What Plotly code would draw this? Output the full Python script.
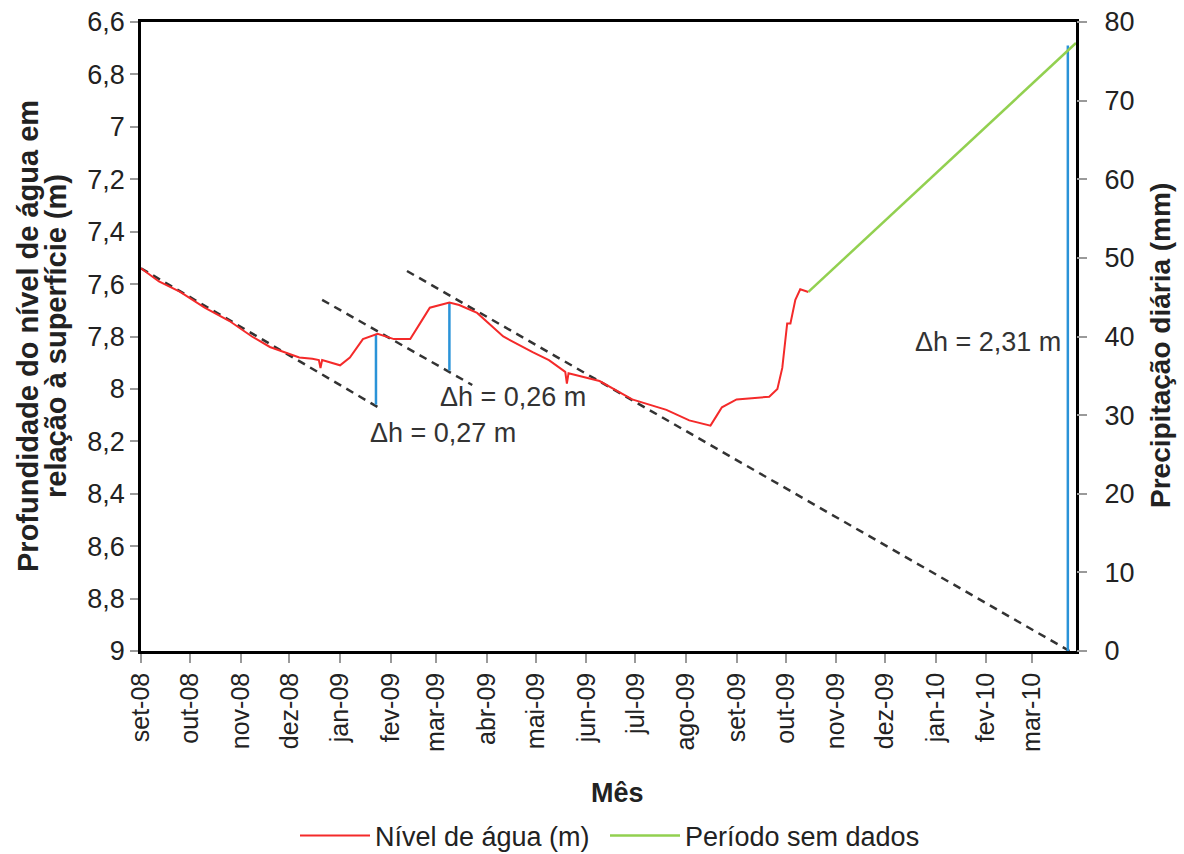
import plotly.graph_objects as go

# Water level record (depth below surface, m)
level_dates = [
    "2008-09-01", "2008-09-12", "2008-09-25", "2008-10-10", "2008-10-25",
    "2008-11-08", "2008-11-19", "2008-12-07", "2008-12-15", "2008-12-19",
    "2008-12-20", "2008-12-21", "2009-01-01", "2009-01-07", "2009-01-15",
    "2009-01-24", "2009-02-03", "2009-02-13", "2009-02-19", "2009-02-25",
    "2009-03-09", "2009-03-15", "2009-03-26", "2009-04-11", "2009-04-29",
    "2009-05-09", "2009-05-19", "2009-05-20", "2009-05-21", "2009-06-09",
    "2009-06-29", "2009-07-20", "2009-08-03", "2009-08-16", "2009-08-20",
    "2009-08-23", "2009-09-01", "2009-09-21", "2009-09-26", "2009-09-29",
    "2009-10-02", "2009-10-04", "2009-10-07", "2009-10-10", "2009-10-15",
]
level_m = [
    7.54, 7.59, 7.63, 7.69, 7.74,
    7.80, 7.84, 7.88, 7.885, 7.89,
    7.92, 7.89, 7.91, 7.88, 7.81,
    7.79, 7.81, 7.81, 7.75, 7.69,
    7.67, 7.68, 7.71, 7.80, 7.86,
    7.89, 7.935, 7.98, 7.94, 7.97,
    8.04, 8.08, 8.12, 8.14, 8.10,
    8.07, 8.04, 8.03, 8.00, 7.92,
    7.75, 7.75, 7.66, 7.62, 7.63,
]

# Gap without records
gap_dates = ["2009-10-15", "2010-03-28"]
gap_m = [7.63, 6.68]

# Recession trend lines (start/end)
trend_dates = [
    ["2008-09-01", "2009-01-27"],
    ["2008-12-21", "2009-03-23"],
    ["2009-02-11", "2010-03-24"],
]
trend_m = [
    [7.54, 8.08],
    [7.66, 7.985],
    [7.55, 9.00],
]

# Water-table rises: date, top of the rise, delta h
rise_dates = ["2009-01-23", "2009-03-09", "2010-03-23"]
rise_top_m = [7.79, 7.67, 6.69]
rise_dh = [0.27, 0.26, 2.31]
rise_labels = ["\u0394h = 0,27 m", "\u0394h = 0,26 m", "\u0394h = 2,31 m"]
label_dates = ["2009-01-18", "2009-03-02", "2009-12-18"]
label_m = [8.17, 8.03, 7.82]

# Axis ticks
month_ticks = [
    "2008-09-01", "2008-10-01", "2008-11-01", "2008-12-01", "2009-01-01",
    "2009-02-01", "2009-03-01", "2009-04-01", "2009-05-01", "2009-06-01",
    "2009-07-01", "2009-08-01", "2009-09-01", "2009-10-01", "2009-11-01",
    "2009-12-01", "2010-01-01", "2010-02-01", "2010-03-01",
]
month_labels = [
    "set-08", "out-08", "nov-08", "dez-08", "jan-09", "fev-09", "mar-09",
    "abr-09", "mai-09", "jun-09", "jul-09", "ago-09", "set-09", "out-09",
    "nov-09", "dez-09", "jan-10", "fev-10", "mar-10",
]
depth_ticks = [6.6, 6.8, 7.0, 7.2, 7.4, 7.6, 7.8, 8.0, 8.2, 8.4, 8.6, 8.8, 9.0]
depth_labels = ["6,6", "6,8", "7", "7,2", "7,4", "7,6", "7,8", "8", "8,2",
                "8,4", "8,6", "8,8", "9"]
rain_ticks = [0, 10, 20, 30, 40, 50, 60, 70, 80]

FONT = "Liberation Sans, Arial, sans-serif"
TXT = "#222222"
RED = "#f42a2a"
GREEN = "#92d050"
BLUE = "#2a93d8"

W, H = 1184, 854
M_L, M_R, M_T, M_B = 141, 108, 22, 203

fig = go.Figure()

for d, m in zip(trend_dates, trend_m):
    fig.add_trace(go.Scatter(
        x=d, y=m, mode="lines", showlegend=False, hoverinfo="skip",
        line=dict(color="#333333", width=2.5, dash="8px,6px"),
    ))

for d, top, dh in zip(rise_dates, rise_top_m, rise_dh):
    fig.add_trace(go.Scatter(
        x=[d, d], y=[top, top + dh], mode="lines", showlegend=False,
        hoverinfo="skip", line=dict(color=BLUE, width=2.5),
    ))

fig.add_trace(go.Scatter(
    x=level_dates, y=level_m, mode="lines", name="Nível de água (m)",
    line=dict(color=RED, width=2), legend="legend",
))
fig.add_trace(go.Scatter(
    x=gap_dates, y=gap_m, mode="lines", name="Período sem dados",
    line=dict(color=GREEN, width=2.5), legend="legend2",
))

# Empty series that binds the precipitation axis
fig.add_trace(go.Scatter(
    x=[level_dates[0]], y=[None], yaxis="y2", mode="lines",
    showlegend=False, hoverinfo="skip",
))

for d, m, t in zip(label_dates, label_m, rise_labels):
    fig.add_annotation(
        x=d, y=m, text=t, showarrow=False, xanchor="left", yanchor="middle",
        font=dict(family=FONT, size=27, color="#333333"),
    )

# Axis titles placed in pixel terms relative to the plot frame
plot_w = W - M_L - M_R
plot_h = H - M_T - M_B


def px_x(px):
    return (px - M_L) / plot_w


def px_y(py):
    return (H - M_B - py) / plot_h


title_font = dict(family=FONT, size=29, color=TXT)
fig.add_annotation(
    x=px_x(28), y=px_y(336), xref="paper", yref="paper", showarrow=False,
    text="<b>Profundidade do nível de água em</b>", textangle=-90,
    xanchor="center", yanchor="middle", font=title_font,
)
fig.add_annotation(
    x=px_x(56), y=px_y(336), xref="paper", yref="paper", showarrow=False,
    text="<b>relação à superfície (m)</b>", textangle=-90,
    xanchor="center", yanchor="middle", font=title_font,
)
fig.add_annotation(
    x=px_x(1160), y=px_y(346), xref="paper", yref="paper", showarrow=False,
    text="<b>Precipitação diária (mm)</b>", textangle=-90,
    xanchor="center", yanchor="middle", font=dict(family=FONT, size=28, color=TXT),
)
fig.add_annotation(
    x=px_x(617), y=px_y(793), xref="paper", yref="paper", showarrow=False,
    text="<b>Mês</b>", xanchor="center", yanchor="middle",
    font=dict(family=FONT, size=27, color=TXT),
)

legend_common = dict(
    orientation="h", xref="container", yref="container",
    xanchor="left", y=(H - 836) / H, yanchor="middle",
    font=dict(family=FONT, size=27, color=TXT),
    itemwidth=70, tracegroupgap=0, bgcolor="rgba(0,0,0,0)",
)

fig.update_layout(
    width=W, height=H,
    margin=dict(l=M_L, r=M_R, t=M_T, b=M_B),
    paper_bgcolor="white", plot_bgcolor="white",
    font=dict(family=FONT, size=26, color=TXT),
    showlegend=True,
    legend=dict(legend_common, x=295 / W),
    legend2=dict(legend_common, x=605 / W),
    xaxis=dict(
        type="date", range=["2008-09-01", "2010-03-28"],
        tickvals=month_ticks, ticktext=month_labels, tickangle=-90,
        ticks="outside", ticklen=9, tickcolor="#9a9a9a", tickwidth=1.5,
        showgrid=False, zeroline=False, automargin=False,
        showline=True, linecolor="black", linewidth=2.5, mirror=True,
        tickfont=dict(size=25),
    ),
    yaxis=dict(
        range=[9.0, 6.6], tickvals=depth_ticks, ticktext=depth_labels,
        ticks="outside", ticklen=8, tickcolor="#9a9a9a", tickwidth=1.5,
        showgrid=False, zeroline=False, automargin=False,
        showline=True, linecolor="black", linewidth=2.5, mirror=True,
        tickfont=dict(size=27),
    ),
    yaxis2=dict(
        overlaying="y", side="right", range=[0, 80], tickvals=rain_ticks,
        ticks="outside", ticklen=10, tickcolor="#9a9a9a", tickwidth=1.5,
        ticklabelstandoff=12,
        showgrid=False, zeroline=False, showline=False, automargin=False,
        tickfont=dict(size=27),
    ),
)

fig.write_html("out.html")
